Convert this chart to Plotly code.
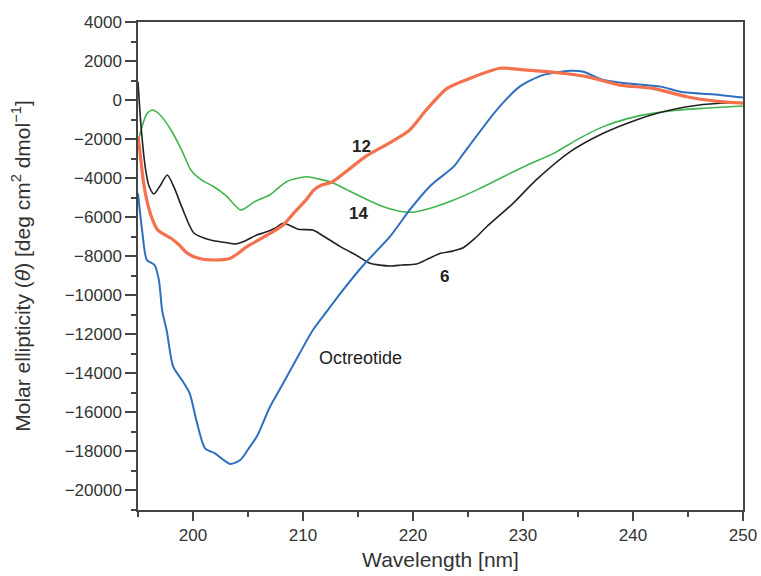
import plotly.graph_objects as go

# ---- data ----
wl_6 = [195.0, 195.3, 195.7, 196.0, 196.45, 197.0, 197.66, 198.3, 199.0, 200.1, 201.6, 203.0,
        203.9, 204.6, 205.8, 206.5, 207.5, 208.2, 209.6, 210.9, 211.7, 213.4, 215.0, 216.1,
        217.9, 219.0, 220.3, 221.5, 222.5, 223.5, 224.6, 225.6, 226.7, 229.1, 231.2, 234.3,
        237.3, 240.3, 242.2, 244.9, 247.9, 250.0]
val_6 = [940, -1500, -3600, -4400, -4810, -4400, -3840, -4500, -5500, -6820, -7170, -7300,
         -7370, -7250, -6910, -6790, -6550, -6310, -6620, -6660, -6910, -7510, -8000, -8360,
         -8500, -8450, -8400, -8100, -7850, -7750, -7550, -7100, -6490, -5290, -4090, -2640,
         -1700, -1020, -680, -340, -160, -160]

wl_14 = [195.0, 195.4, 195.8, 196.3, 196.9, 198.0, 199.0, 199.8, 200.8, 201.9, 203.0, 204.3,
         204.7, 205.6, 206.3, 207.0, 208.5, 210.3, 211.5, 212.6, 214.0, 215.9, 217.5, 219.7,
         221.5, 223.7, 226.0, 228.2, 230.5, 232.8, 235.0, 237.3, 239.5, 241.8, 244.0, 246.4,
         250.0]
val_14 = [-2130, -1300, -700, -510, -700, -1530, -2600, -3580, -4100, -4440, -4900, -5630,
          -5550, -5200, -5030, -4850, -4180, -3930, -4050, -4210, -4600, -5120, -5500, -5750,
          -5550, -5120, -4550, -3930, -3300, -2730, -2000, -1360, -950, -680, -520, -420,
          -300]

wl_12 = [195.0, 195.1, 195.5, 195.8, 196.3, 196.8, 198.0, 198.7, 199.5, 200.5, 201.6, 203.4,
         204.9, 206.5, 208.2, 209.3, 210.3, 211.0, 211.7, 212.6, 214.1, 215.8, 218.0,
         219.7, 221.2, 223.1, 225.2, 227.9, 230.3, 232.2, 234.0, 235.8, 238.8, 241.8, 244.9,
         247.9, 250.0]
val_12 = [-1880, -2300, -4200, -5120, -6100, -6660, -7080, -7400, -7850, -8100, -8190, -8100,
          -7510, -7000, -6400, -5700, -5100, -4600, -4350, -4210, -3580, -2850, -2150,
          -1530, -510, 600, 1120, 1630, 1540, 1460, 1350, 1200, 770, 600, 170,
          -80, -160]

wl_oct = [195.0, 195.4, 195.8, 196.5, 196.9, 197.2, 197.6, 198.2, 199.1, 199.7, 200.3, 201.1,
          202.0, 202.7, 203.4, 204.3, 205.0, 205.8, 207.0, 208.2, 209.7, 210.9, 212.2, 213.4,
          215.5, 217.9, 219.7, 221.5, 222.2, 223.7, 224.6, 227.6, 229.7, 231.8, 234.3, 235.5,
          237.3, 239.4, 242.5, 244.3, 247.9, 250.0]
val_oct = [-4780, -6800, -8190, -8450, -9220, -10800, -11780, -13660, -14430, -15020, -16390, -17840,
           -18100, -18400, -18640, -18440, -17900, -17240, -15710, -14510, -12970, -11780, -10800, -9900,
           -8450, -7000, -5630, -4440, -4090, -3410, -2730, -510, 690, 1280, 1500, 1450,
           1030, 860, 690, 430, 260, 130]

label_text = ["12", "14", "6", "Octreotide"]
label_x = [215.3, 215.0, 222.9, 215.2]
label_y = [-2400, -5785, -9060, -13210]
label_bold = [True, True, True, False]

x_range = [195, 250]
y_range = [-21000, 4000]

FONT = "Liberation Sans, Arial, sans-serif"

fig = go.Figure()
series = [
    (wl_14, val_14, "#3fb54b", 1.6, "14"),
    (wl_6, val_6, "#222222", 1.6, "6"),
    (wl_oct, val_oct, "#2f6fc0", 2.0, "Octreotide"),
    (wl_12, val_12, "#f4714e", 3.2, "12"),
]
for xs, ys, col, w, name in series:
    fig.add_trace(go.Scatter(x=xs, y=ys, mode="lines", name=name,
                             line=dict(color=col, width=w, shape="spline", smoothing=0.7)))

for t, x, y, b in zip(label_text, label_x, label_y, label_bold):
    fig.add_annotation(x=x, y=y, text=f"<b>{t}</b>" if b else t, showarrow=False,
                       font=dict(family=FONT, size=17 if b else 18, color="#222"))

axis_common = dict(showline=True, linecolor="#444", linewidth=1.5, mirror=True,
                   ticks="outside", tickwidth=1.5, tickcolor="#444",
                   showgrid=False, zeroline=False,
                   tickfont=dict(family=FONT, size=17, color="#333"))

fig.update_xaxes(range=x_range, tick0=200, dtick=10, ticklen=9,
                 minor=dict(tick0=195, dtick=5, ticks="outside", ticklen=5, tickwidth=1.5, tickcolor="#444"),
                 title=dict(text="Wavelength [nm]", font=dict(family=FONT, size=21, color="#333"), standoff=8),
                 **axis_common)
fig.update_yaxes(range=y_range, tick0=0, dtick=2000, tickformat="d", ticklen=11,
                 minor=dict(tick0=0, dtick=1000, ticks="outside", ticklen=5, tickwidth=1.5, tickcolor="#444"),
                 title=dict(text="Molar ellipticity (<i>θ</i>) [deg cm<sup>2</sup> dmol<sup>−1</sup>]",
                            font=dict(family=FONT, size=21, color="#333"), standoff=28),
                 **axis_common)

fig.update_layout(width=761, height=576, showlegend=False,
                  margin=dict(l=138, r=18, t=22, b=66, autoexpand=False),
                  plot_bgcolor="white", paper_bgcolor="white")

fig.write_html("out.html",
               config={"displayModeBar": False},
               post_script="document.body.style.margin='0';document.body.style.overflow='hidden';")
